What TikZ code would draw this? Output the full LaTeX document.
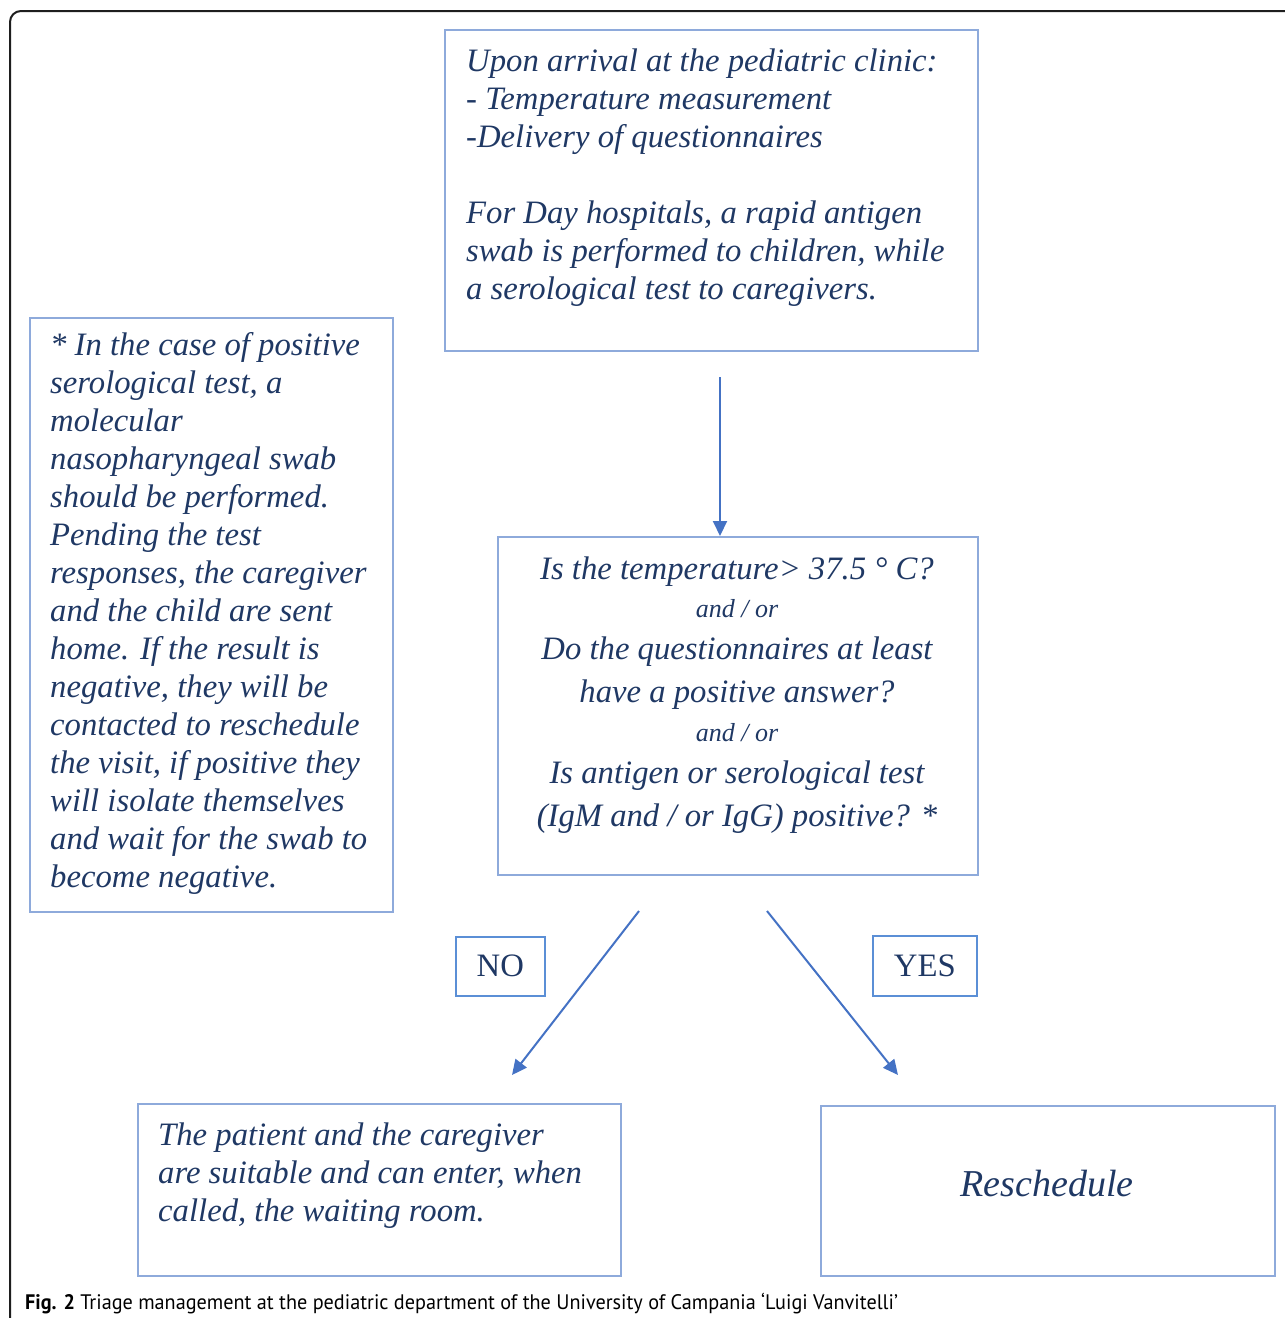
\documentclass[tikz,border=0pt]{standalone}
\usepackage{fontspec}
\setmainfont{Liberation Serif}
\newfontfamily\capfont{PT Sans}
\usetikzlibrary{arrows.meta}
\definecolor{boxc}{HTML}{8EAADB}
\definecolor{lblc}{HTML}{5B8FD6}
\definecolor{arrc}{HTML}{4472C4}
\definecolor{txtc}{HTML}{1F3864}
\definecolor{framec}{HTML}{1E1E1E}
\begin{document}
\begin{tikzpicture}[x=1pt,y=-1pt,
  box/.style={draw=boxc,line width=2pt,anchor=north west,inner sep=0pt},
  lbl/.style={draw=lblc,line width=1.6pt,anchor=north west,inner sep=0pt},
  txt/.style={text=txtc,inner sep=0pt,font=\fontsize{32.7}{38}\selectfont\itshape},
  small/.style={text=txtc,inner sep=0pt,font=\fontsize{26}{30}\selectfont\itshape},
  arr/.style={draw=arrc,line width=2pt,-{Triangle[length=15pt,width=14pt]}}]
\useasboundingbox (0,0) rectangle (1285,1318);
\begin{scope}
\clip (0,0) rectangle (1285,1318);
\draw[framec,line width=2pt,rounded corners=11pt] (10,1340) -- (10,11) -- (1300,11);
\end{scope}
% boxes
\node[box,minimum width=533pt,minimum height=321pt] (top) at (444,29) {};
\node[box,minimum width=363pt,minimum height=594pt] (note) at (29,317) {};
\node[box,minimum width=480pt,minimum height=338pt] (dec) at (497,536) {};
\node[lbl,minimum width=89pt,minimum height=59pt] (no) at (455,936) {};
\node[lbl,minimum width=104pt,minimum height=60pt] (yes) at (872,935) {};
\node[box,minimum width=483pt,minimum height=172pt] (enter) at (137,1103) {};
\node[box,minimum width=454pt,minimum height=170pt] (resch) at (820,1105) {};
% texts (base anchor = baseline of last line)
\node[txt,anchor=base west,align=left] (toptext) at (466,299) {Upon arrival at the pediatric clinic:\\
- Temperature measurement\\
-Delivery of questionnaires\\[38pt]
For Day hospitals, a rapid antigen\\
swab is performed to children, while\\
a serological test to caregivers.};
\node[txt,anchor=base west,align=left] (notetext) at (50,887) {* In the case of positive\\
serological test, a\\
molecular\\
nasopharyngeal swab\\
should be performed.\\
Pending the test\\
responses, the caregiver\\
and the child are sent\\
home. If the result is\\
negative, they will be\\
contacted to reschedule\\
the visit, if positive they\\
will isolate themselves\\
and wait for the swab to\\
become negative.};
\node[txt,anchor=base] (q1) at (737,579) {Is the temperature> 37.5 ° C?};
\node[small,anchor=base] (o1) at (737,617) {and / or};
\node[txt,anchor=base] (q2a) at (737,659) {Do the questionnaires at least};
\node[txt,anchor=base] (q2b) at (737,702) {have a positive answer?};
\node[small,anchor=base] (o2) at (737,741) {and / or};
\node[txt,anchor=base] (q3a) at (737,783) {Is antigen or serological test};
\node[txt,anchor=base] (q3b) at (737,826) {(IgM and / or IgG) positive? *};
\node[text=txtc,inner sep=0pt,font=\fontsize{32.7}{38}\selectfont] (notxt) at (no.center) {NO};
\node[text=txtc,inner sep=0pt,font=\fontsize{32.7}{38}\selectfont] (yestxt) at (yes.center) {YES};
\node[txt,anchor=base west,align=left] (entertext) at (158,1221) {The patient and the caregiver\\
are suitable and can enter, when\\
called, the waiting room.};
\node[txt,font=\fontsize{38}{44}\selectfont\itshape] (reschtext) at (1047,1184) {Reschedule};
% arrows
\coordinate (a1) at (720,377);
\draw[arr] (a1) -- (a1 |- dec.north);
\coordinate (n1) at (639,911);
\coordinate (n2) at (512,1075);
\draw[arr] (n1) -- (n2);
\coordinate (y1) at (767,911);
\coordinate (y2) at (898,1075);
\draw[arr] (y1) -- (y2);
% caption
\node[anchor=base west,inner sep=0pt,font=\capfont\fontsize{21}{24}\selectfont] (cap) at (25,1309) {\scalebox{0.9625}[1]{\textbf{Fig. 2} Triage management at the pediatric department of the University of Campania ‘Luigi Vanvitelli’}};
\end{tikzpicture}
\end{document}
